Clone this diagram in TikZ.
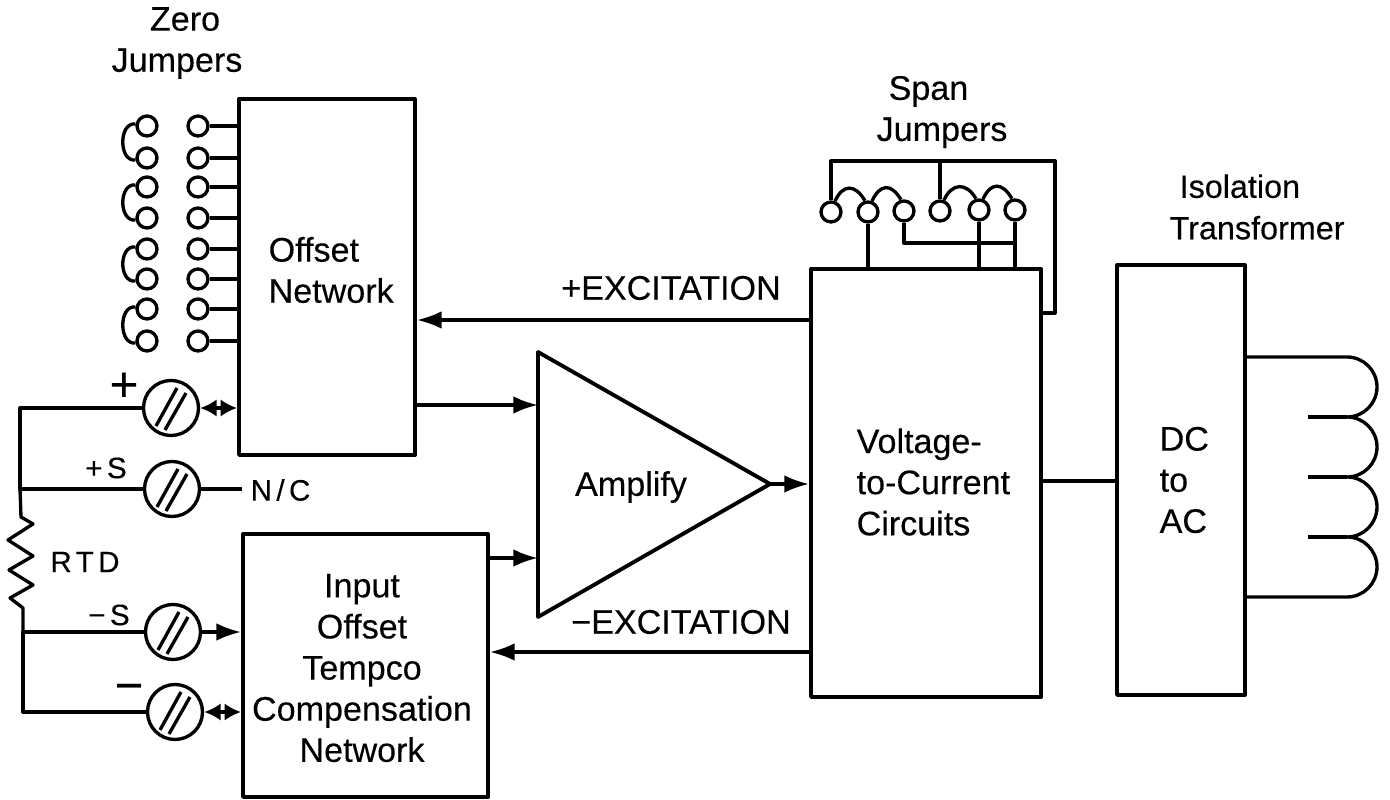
\documentclass[tikz,border=0pt]{standalone}
\usepackage{fontspec}
\setmainfont[FakeBold=.25]{Liberation Sans}
\newfontfamily\termfont[LetterSpace=15,FakeBold=.25]{Liberation Sans}
\usetikzlibrary{arrows.meta}
\tikzset{
    blockbox/.style={draw,line width=1.1pt,inner sep=0pt},
    blocktext/.style={inner sep=0pt,font=\fontsize{9.7}{11.7}\selectfont},
    termtext/.style={inner sep=0pt,font=\fontsize{8.4}{9}\selectfont\termfont},
    signtext/.style={inner sep=0pt,font=\fontsize{14}{14}\selectfont},
    jumperpin/.style={circle,draw,inner sep=0pt,minimum size=.2cm},
    terminal/.style={circle,draw,inner sep=0pt,minimum size=.55cm,
        path picture={\draw[shift={(path picture bounding box.center)}] (-.15,-.18) -- (.06,.2) (-.06,-.22) -- (.15,.15);}},
    bothways/.style={{Latex[length=4.7pt,width=5pt]}-{Latex[length=4.7pt,width=5pt]}}
}
\begin{document}
\begin{tikzpicture}[line width=.95pt,>={Latex[length=7pt,width=5pt]},line join=round]
                \useasboundingbox (0,0) rectangle (13.9,-8);
                \node[blockbox,minimum width=1.76cm,minimum height=3.56cm] (offset) at (3.27,-2.77) {};
                \node[blockbox,minimum width=2.45cm,minimum height=2.63cm] (input) at (3.655,-6.655) {};
                \node[blockbox,minimum width=2.3cm,minimum height=4.28cm] (vtoc) at (9.26,-4.83) {};
                \node[blockbox,minimum width=1.28cm,minimum height=4.3cm] (dcac) at (11.81,-4.8) {};
                \coordinate (ampt) at (5.38,-3.52);
                \coordinate (ampb) at (5.38,-6.17);
                \coordinate (ampo) at (7.7,-4.84);
                \draw[line width=1.1pt] (ampt) -- (ampo) -- (ampb) -- cycle;
                \node[blocktext,align=center] (zerolabel) at (1.77,-.43) {\hspace*{.16cm}Zero\\Jumpers};
                \node[blocktext,anchor=west,align=left] (spanlabel) at (8.75,-1.12) {\hspace*{.12cm}Span\\Jumpers};
                \node[blocktext,anchor=west,align=left,font=\fontsize{9.2}{11.8}\selectfont] (isolabel) at (11.68,-2.07) {\hspace*{.1cm}Isolation\\Transformer};
                \node[blocktext,anchor=west,align=left] (offsetlabel) at (2.67,-2.7) {Offset\\Network};
                \node[blocktext,align=center] (inputlabel) at (3.62,-6.68) {Input\\Offset\\Tempco\\Compensation\\Network};
                \node[blocktext] (amplabel) at (6.31,-4.87) {Amplify};
                \node[blocktext,anchor=west,align=left] (vtoclabel) at (8.55,-4.82) {Voltage-\\to-Current\\Circuits};
                \node[blocktext,anchor=west,align=left] (dclabel) at (11.58,-4.8) {DC\\to\\AC};
                \node[blocktext] (plusexlabel) at (6.71,-2.88) {+EXCITATION};
                \node[blocktext] (minusexlabel) at (6.81,-6.22) {−EXCITATION};
                \foreach \y [count=\i] in {1.26,1.58,1.87,2.18,2.49,2.79,3.09,3.41}
                {
                    \node[jumperpin] (zl\i) at (1.47,-\y) {};
                    \node[jumperpin] (zr\i) at (1.98,-\y) {};
                    \draw (zr\i) -- (zr\i -| offset.west);
                }
                \foreach \i/\j in {1/2,3/4,5/6,7/8}
                {
                    \draw (zl\i.170) .. controls +(-.17,.02) and +(-.17,-.02) .. (zl\j.190);
                }
                \foreach \x/\y [count=\i] in {8.31/2.12,8.68/2.12,9.04/2.11,9.4/2.11,9.79/2.1,10.15/2.1}
                {
                    \node[jumperpin] (sp\i) at (\x,-\y) {};
                }
                \foreach \i/\j in {1/2,2/3,4/5,5/6}
                {
                    \draw (sp\i.70) .. controls +(.08,.17) and +(-.1,.17) .. (sp\j.105);
                }
                \coordinate (spantl) at (8.31,-1.61);
                \coordinate (spantr) at (10.55,-1.61);
                \coordinate (spanbr) at (10.55,-3.13);
                \coordinate (spanlink) at (9.04,-2.43);
                \draw (sp1) -- (spantl) -- (spantr) -- (spanbr) -- (spanbr -| vtoc.east);
                \draw (sp4) -- (sp4 |- spantl);
                \draw (sp2) -- (sp2 |- vtoc.north);
                \draw (sp5) -- (sp5 |- vtoc.north);
                \draw (sp6) -- (sp6 |- vtoc.north);
                \draw (sp3) -- (spanlink) -- (spanlink -| sp6);
                \node[terminal] (tplus) at (1.71,-4.08) {};
                \node[terminal] (tplusS) at (1.72,-4.89) {};
                \node[terminal] (tminusS) at (1.73,-6.32) {};
                \node[terminal] (tminus) at (1.75,-7.12) {};
                \node[signtext] (plussign) at (1.24,-3.87) {+};
                \node[termtext] (plusS) at (1.06,-4.68) {+S};
                \node[termtext] (minusS) at (1.09,-6.15) {−S};
                \node[signtext] (minussign) at (1.29,-6.93) {−};
                \node[termtext] (rtdlabel) at (.85,-5.62) {RTD};
                \node[termtext,anchor=west] (nclabel) at (2.49,-4.9) {N/C};
                \coordinate (bustop) at (.2,-4.08);
                \coordinate (busmid) at (.2,-4.89);
                \coordinate (buslow) at (.23,-6.32);
                \coordinate (busend) at (.23,-7.12);
                \draw (tplus) -- (bustop) -- (busmid) -- (tplusS);
                \draw (busmid) -- (.21,-5.17) -- (.33,-5.24) -- (.08,-5.4) -- (.33,-5.56) -- (.09,-5.7) -- (.33,-5.85) -- (.1,-5.98) -- (.23,-6.08) -- (buslow);
                \draw (tminusS) -- (buslow) -- (busend) -- (tminus);
                \draw (tplusS) -- (2.42,-4.89);
                \draw[bothways] (tplus) -- (tplus -| offset.west);
                \draw[->] (tminusS) -- (tminusS -| input.west);
                \draw[bothways] (tminus) -- (tminus -| input.west);
                \coordinate (plusex) at (0,-3.2);
                \coordinate (minusex) at (0,-6.52);
                \coordinate (ampin) at (0,-4.05);
                \coordinate (ampcomp) at (0,-5.58);
                \coordinate (dcline) at (0,-4.81);
                \draw[->] (plusex -| vtoc.west) -- (plusex -| offset.east);
                \draw[->] (minusex -| vtoc.west) -- (minusex -| input.east);
                \draw[->] (ampin -| offset.east) -- (ampin -| ampt);
                \draw[->] (ampcomp -| input.east) -- (ampcomp -| ampt);
                \draw[->] (ampo) -- (ampo -| vtoc.west);
                \draw (dcline -| vtoc.east) -- (dcline -| dcac.west);
                \coordinate (coila) at (13.47,-3.57);
                \coordinate (coilb) at (13.47,-5.97);
                \draw (coila -| dcac.east) -- (coila) arc[start angle=90,end angle=-90,radius=.3] arc[start angle=90,end angle=-90,radius=.3] arc[start angle=90,end angle=-90,radius=.3] arc[start angle=90,end angle=-90,radius=.3] -- (coilb -| dcac.east);
                \foreach \y in {4.17,4.77,5.37}
                {
                    \draw (13.08,-\y) -- (13.47,-\y);
                }
            \end{tikzpicture}
\end{document}
